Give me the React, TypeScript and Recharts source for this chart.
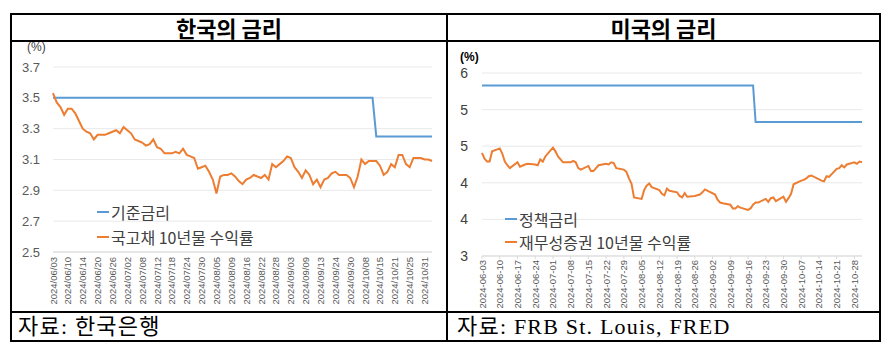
import React from 'react';
import { LineChart, Line, XAxis, YAxis, CartesianGrid, Legend } from 'recharts';

// ---------- Korea (trading days) ----------
const krDates = (
  '06/03 06/04 06/05 06/07 06/10 06/11 06/12 06/13 06/14 06/17 06/18 06/19 06/20 06/21 06/24 06/25 06/26 06/27 06/28 ' +
  '07/01 07/02 07/03 07/04 07/05 07/08 07/09 07/10 07/11 07/12 07/15 07/16 07/17 07/18 07/19 07/22 07/23 07/24 07/25 07/26 07/29 07/30 07/31 ' +
  '08/01 08/02 08/05 08/06 08/07 08/08 08/09 08/12 08/13 08/14 08/16 08/19 08/20 08/21 08/22 08/23 08/26 08/27 08/28 08/29 08/30 ' +
  '09/02 09/03 09/04 09/05 09/06 09/09 09/10 09/11 09/12 09/13 09/19 09/20 09/23 09/24 09/25 09/26 09/27 09/30 ' +
  '10/02 10/04 10/07 10/08 10/10 10/11 10/14 10/15 10/16 10/17 10/18 10/21 10/22 10/23 10/24 10/25 10/28 10/29 10/30 10/31 ' +
  '11/01 11/04'
).split(' ').map((d) => '2024/' + d);

const krBaseRate = [
  3.5, 3.5, 3.5, 3.5, 3.5, 3.5, 3.5, 3.5, 3.5, 3.5,
  3.5, 3.5, 3.5, 3.5, 3.5, 3.5, 3.5, 3.5, 3.5, 3.5,
  3.5, 3.5, 3.5, 3.5, 3.5, 3.5, 3.5, 3.5, 3.5, 3.5,
  3.5, 3.5, 3.5, 3.5, 3.5, 3.5, 3.5, 3.5, 3.5, 3.5,
  3.5, 3.5, 3.5, 3.5, 3.5, 3.5, 3.5, 3.5, 3.5, 3.5,
  3.5, 3.5, 3.5, 3.5, 3.5, 3.5, 3.5, 3.5, 3.5, 3.5,
  3.5, 3.5, 3.5, 3.5, 3.5, 3.5, 3.5, 3.5, 3.5, 3.5,
  3.5, 3.5, 3.5, 3.5, 3.5, 3.5, 3.5, 3.5, 3.5, 3.5,
  3.5, 3.5, 3.5, 3.5, 3.5, 3.5, 3.5, 3.25, 3.25, 3.25,
  3.25, 3.25, 3.25, 3.25, 3.25, 3.25, 3.25, 3.25, 3.25, 3.25,
  3.25, 3.25, 3.25,
];

const krBond10y = [
  3.53, 3.47, 3.44, 3.39, 3.43, 3.43, 3.40, 3.35, 3.30, 3.28,
  3.27, 3.23, 3.26, 3.26, 3.26, 3.27, 3.28, 3.29, 3.27, 3.31,
  3.29, 3.27, 3.23, 3.22, 3.21, 3.19, 3.20, 3.23, 3.18, 3.17,
  3.14, 3.14, 3.14, 3.15, 3.14, 3.17, 3.13, 3.12, 3.11, 3.04,
  3.05, 3.06, 3.02, 2.97, 2.88, 2.99, 3.00, 3.00, 3.01, 2.99,
  2.96, 2.94, 2.97, 2.98, 3.00, 2.99, 2.98, 3.00, 2.97, 3.07,
  3.05, 3.07, 3.09, 3.12, 3.11, 3.05, 3.02, 2.98, 3.03, 3.00,
  2.94, 2.97, 2.92, 2.97, 2.98, 3.01, 3.02, 3.00, 3.00, 3.00,
  2.98, 2.92, 2.99, 3.10, 3.07, 3.09, 3.09, 3.09, 3.06, 3.00,
  3.02, 3.07, 3.05, 3.13, 3.13, 3.07, 3.05, 3.11, 3.11, 3.11,
  3.10, 3.10, 3.09,
];

const krYTicks = [2.5, 2.7, 2.9, 3.1, 3.3, 3.5, 3.7];

// ---------- USA (business days) ----------
const usDates = (
  '06-03 06-04 06-05 06-06 06-07 06-10 06-11 06-12 06-13 06-14 06-17 06-18 06-20 06-21 06-24 06-25 06-26 06-27 06-28 ' +
  '07-01 07-02 07-03 07-05 07-08 07-09 07-10 07-11 07-12 07-15 07-16 07-17 07-18 07-19 07-22 07-23 07-24 07-25 07-26 07-29 07-30 07-31 ' +
  '08-01 08-02 08-05 08-06 08-07 08-08 08-09 08-12 08-13 08-14 08-15 08-16 08-19 08-20 08-21 08-22 08-23 08-26 08-27 08-28 08-29 08-30 ' +
  '09-03 09-04 09-05 09-06 09-09 09-10 09-11 09-12 09-13 09-16 09-17 09-18 09-19 09-20 09-23 09-24 09-25 09-26 09-27 09-30 ' +
  '10-01 10-02 10-03 10-04 10-07 10-08 10-09 10-10 10-11 10-15 10-16 10-17 10-18 10-21 10-22 10-23 10-24 10-25 10-28 10-29 10-30 10-31'
).split(' ').map((d) => '2024-' + d);

const usPolicyRate = [
  5.33, 5.33, 5.33, 5.33, 5.33, 5.33, 5.33, 5.33, 5.33, 5.33,
  5.33, 5.33, 5.33, 5.33, 5.33, 5.33, 5.33, 5.33, 5.33, 5.33,
  5.33, 5.33, 5.33, 5.33, 5.33, 5.33, 5.33, 5.33, 5.33, 5.33,
  5.33, 5.33, 5.33, 5.33, 5.33, 5.33, 5.33, 5.33, 5.33, 5.33,
  5.33, 5.33, 5.33, 5.33, 5.33, 5.33, 5.33, 5.33, 5.33, 5.33,
  5.33, 5.33, 5.33, 5.33, 5.33, 5.33, 5.33, 5.33, 5.33, 5.33,
  5.33, 5.33, 5.33, 5.33, 5.33, 5.33, 5.33, 5.33, 5.33, 5.33,
  5.33, 5.33, 5.33, 5.33, 5.33, 4.83, 4.83, 4.83, 4.83, 4.83,
  4.83, 4.83, 4.83, 4.83, 4.83, 4.83, 4.83, 4.83, 4.83, 4.83,
  4.83, 4.83, 4.83, 4.83, 4.83, 4.83, 4.83, 4.83, 4.83, 4.83,
  4.83, 4.83, 4.83, 4.83, 4.83,
];

const usTreasury10y = [
  4.41, 4.33, 4.29, 4.29, 4.43, 4.47, 4.40, 4.29, 4.24, 4.20, 4.28, 4.22, 4.25, 4.26, 4.25, 4.24, 4.32, 4.29, 4.36,
  4.48, 4.43, 4.36, 4.28, 4.28, 4.30, 4.28, 4.20, 4.18, 4.23, 4.16, 4.16, 4.20, 4.24, 4.26, 4.25, 4.28, 4.27, 4.20, 4.18, 4.15, 4.06,
  3.99, 3.80, 3.78, 3.90, 3.96, 3.99, 3.94, 3.90, 3.85, 3.83, 3.92, 3.89, 3.87, 3.82, 3.80, 3.86, 3.81, 3.82, 3.83, 3.84, 3.87, 3.91,
  3.84, 3.77, 3.73, 3.72, 3.70, 3.65, 3.65, 3.68, 3.66, 3.63, 3.65, 3.70, 3.73, 3.73, 3.78, 3.74, 3.79, 3.80, 3.75, 3.81,
  3.74, 3.79, 3.85, 3.98, 4.03, 4.04, 4.06, 4.09, 4.10, 4.03, 4.02, 4.09, 4.08, 4.19, 4.20, 4.24, 4.21, 4.25, 4.28, 4.26, 4.29, 4.28,
];

const usTickLabels = [
  '2024-06-03', '2024-06-10', '2024-06-17', '2024-06-24', '2024-07-01', '2024-07-08', '2024-07-15', '2024-07-22',
  '2024-07-29', '2024-08-05', '2024-08-12', '2024-08-19', '2024-08-26', '2024-09-02', '2024-09-09', '2024-09-16',
  '2024-09-23', '2024-09-30', '2024-10-07', '2024-10-14', '2024-10-21', '2024-10-28',
];
const usYTicks = [3, 3.5, 4, 4.5, 5, 5.5];

// ---------- derived tables ----------
const toDay = (s: string) => Date.parse(s + 'T00:00:00Z') / 86400000;

const krData = krDates.map((d, i) => ({ date: d, base: krBaseRate[i], bond: krBond10y[i] }));
const usData = usDates.map((d, i) => ({ t: toDay(d), policy: usPolicyRate[i], bond: usTreasury10y[i] }));
const usTicks = usTickLabels.map(toDay);
const dayToLabel = (t: number) => new Date(t * 86400000).toISOString().slice(0, 10);

const BLUE = '#5B9BD5';
const ORANGE = '#ED7D31';
const FONT = '"Liberation Sans", "Noto Sans CJK KR", sans-serif';
const KFONT = '"Noto Sans CJK KR", "Liberation Sans", sans-serif';
const SERIF = '"Liberation Serif", "Noto Sans CJK KR", serif';

const RotTick = (props: any) => {
  const { x, y, payload, fmt } = props;
  const label = fmt ? fmt(payload.value) : payload.value;
  return (
    <text
      transform={`translate(${x},${y}) rotate(-90)`}
      textAnchor="end"
      dominantBaseline="central"
      fontSize={9.5}
      fontFamily={FONT}
      fill="#595959"
    >
      {label}
    </text>
  );
};

const makeLegend = (items: { color: string; label: string }[], gap: number) => () => (
  <div style={{ fontFamily: KFONT, fontSize: 16, color: '#404040' }}>
    {items.map((it, i) => (
      <div key={i} style={{ display: 'flex', alignItems: 'center', height: gap, whiteSpace: 'nowrap' }}>
        <span style={{ display: 'inline-block', width: 12, height: 2, background: it.color, marginRight: 2 }} />
        <span>{it.label}</span>
      </div>
    ))}
  </div>
);

const krLegend = makeLegend(
  [
    { color: BLUE, label: '기준금리' },
    { color: ORANGE, label: '국고채 10년물 수익률' },
  ],
  25
);
const usLegend = makeLegend(
  [
    { color: BLUE, label: '정책금리' },
    { color: ORANGE, label: '재무성증권 10년물 수익률' },
  ],
  23
);

const line = (left: number, top: number, width: number, height: number) => (
  <div style={{ position: 'absolute', left, top, width, height, background: '#000' }} />
);

const titleStyle: React.CSSProperties = {
  position: 'absolute', top: 14, height: 26, lineHeight: '26px', textAlign: 'center',
  fontFamily: KFONT, fontSize: 22, fontWeight: 'bold', textDecoration: 'underline', textUnderlineOffset: 3,
};
const srcStyle: React.CSSProperties = {
  position: 'absolute', top: 313, height: 27, lineHeight: '27px', fontFamily: SERIF,
  fontSize: 22, letterSpacing: 1.2, whiteSpace: 'nowrap',
};

export default function App() {
  return (
    <div style={{ position: 'absolute', left: 0, top: 0, width: 890, height: 353, background: '#fff', overflow: 'hidden' }}>
      {/* Korea chart */}
      <div style={{ position: 'absolute', left: 0, top: 0 }}>
        <LineChart width={447} height={353} data={krData} margin={{ top: 67, right: 15, bottom: 0, left: 23 }}>
          <CartesianGrid vertical={false} stroke="#e9e9e9" />
          <XAxis
            dataKey="date"
            interval={3}
            axisLine={{ stroke: '#d9d9d9' }}
            tickLine={false}
            tickSize={2}
            tickMargin={3}
            height={101}
            tick={<RotTick />}
          />
          <YAxis
            domain={[2.5, 3.7]}
            ticks={krYTicks}
            width={30}
            axisLine={false}
            tickLine={false}
            tickSize={0}
            tickMargin={13}
            tickFormatter={(v: number) => v.toFixed(1)}
            tick={{ fontSize: 13, fill: '#595959', fontFamily: FONT }}
          />
          <Legend
            layout="vertical"
            align="center"
            verticalAlign="middle"
            content={krLegend}
            wrapperStyle={{ position: 'absolute', left: 97, top: 199, width: 250 }}
          />
          <Line dataKey="base" stroke={BLUE} strokeWidth={2} dot={false} isAnimationActive={false} type="linear" />
          <Line dataKey="bond" stroke={ORANGE} strokeWidth={2} dot={false} isAnimationActive={false} type="linear" />
        </LineChart>
        <div style={{ position: 'absolute', left: 27, top: 40, fontSize: 12, fontFamily: FONT, color: '#404040' }}>(%)</div>
      </div>

      {/* US chart */}
      <div style={{ position: 'absolute', left: 447, top: 0 }}>
        <LineChart width={443} height={353} data={usData} margin={{ top: 73, right: 28, bottom: 0, left: 10 }}>
          <CartesianGrid vertical={false} stroke="#e9e9e9" />
          <XAxis
            dataKey="t"
            type="number"
            domain={[usData[0].t, usData[usData.length - 1].t]}
            ticks={usTicks}
            interval={0}
            axisLine={{ stroke: '#d9d9d9' }}
            tickLine={{ stroke: '#d9d9d9' }}
            tickSize={3}
            tickMargin={1}
            height={97}
            tick={<RotTick fmt={dayToLabel} />}
          />
          <YAxis
            domain={[3, 5.5]}
            ticks={usYTicks}
            width={25}
            axisLine={false}
            tickLine={false}
            tickSize={0}
            tickMargin={14}
            tickFormatter={(v: number) => String(Math.round(v))}
            tick={{ fontSize: 14, fill: '#404040', fontFamily: FONT }}
          />
          <Legend
            layout="vertical"
            align="center"
            verticalAlign="middle"
            content={usLegend}
            wrapperStyle={{ position: 'absolute', left: 58, top: 207, width: 260 }}
          />
          <Line dataKey="policy" stroke={BLUE} strokeWidth={2} dot={false} isAnimationActive={false} type="linear" />
          <Line dataKey="bond" stroke={ORANGE} strokeWidth={2} dot={false} isAnimationActive={false} type="linear" />
        </LineChart>
        <div style={{ position: 'absolute', left: 13, top: 50, fontSize: 12, fontWeight: 'bold', fontFamily: FONT, color: '#000' }}>(%)</div>
      </div>

      {/* table frame */}
      {line(10, 13, 871, 2)}
      {line(10, 40, 871, 2)}
      {line(10, 311, 871, 2)}
      {line(10, 340, 871, 2)}
      {line(10, 13, 2, 329)}
      {line(446, 13, 2, 329)}
      {line(879, 13, 2, 329)}

      {/* titles */}
      <div style={{ ...titleStyle, left: 12, width: 434 }}>한국의 금리</div>
      <div style={{ ...titleStyle, left: 448, width: 431 }}>미국의 금리</div>

      {/* sources */}
      <div style={{ ...srcStyle, left: 18 }}>자료: 한국은행</div>
      <div style={{ ...srcStyle, left: 457 }}>자료: FRB St. Louis, FRED</div>
    </div>
  );
}
